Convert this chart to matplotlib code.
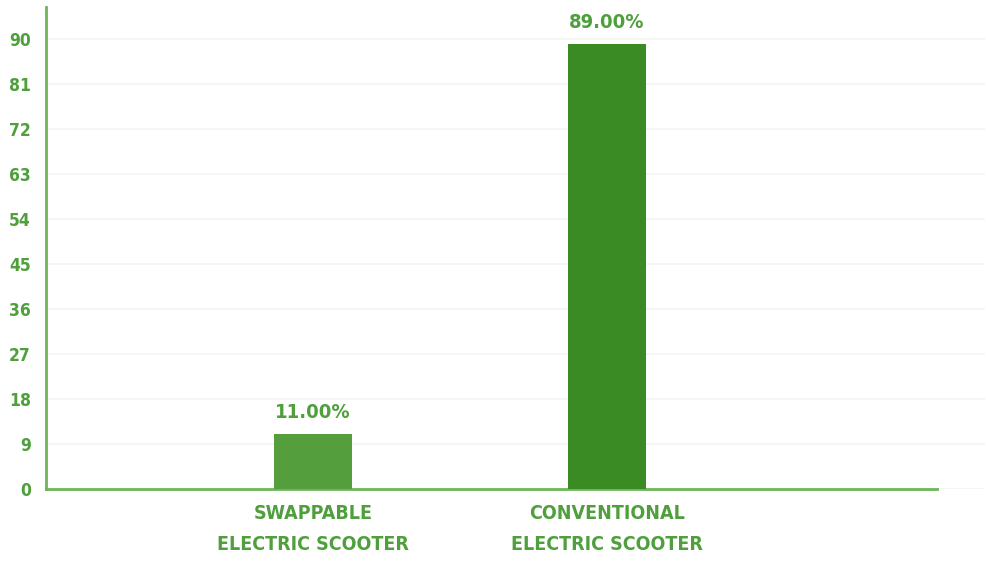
import matplotlib
matplotlib.use("Agg")
import matplotlib.pyplot as plt

categories = ["SWAPPABLE\nELECTRIC SCOOTER", "CONVENTIONAL\nELECTRIC SCOOTER"]
shares = [11.0, 89.0]
yticks = [0, 9, 18, 27, 36, 45, 54, 63, 72, 81, 90]

plt.rcParams["font.family"] = ["DejaVu Sans"]
plt.rcParams["font.stretch"] = "condensed"

text_green = "#4f9f3c"
axis_green = "#6cb55a"
bar_colors = ["#559e3d", "#3b8b24"]

fig = plt.figure(figsize=(9.87, 5.63), dpi=100)
ax = fig.add_axes([46 / 987, 74 / 563, (985 - 46) / 987, (489 - 7) / 563])

x = list(range(len(categories)))
bars = ax.bar(x, shares, width=0.266, color=bar_colors, zorder=3)

# percentage labels above the bars
for b, v in zip(bars, shares):
    ax.text(b.get_x() + b.get_width() / 2, v + 2.3, f"{v:.2f}%",
            ha="center", va="bottom", color=text_green,
            fontsize=14.5, fontweight="bold", fontstretch="condensed")

ax.set_ylim(0, 96.4)
ax.set_xlim(-0.911, 2.29)
ax.set_yticks(yticks)
ax.set_xticks(x)
ax.set_xticklabels(categories, color=text_green, fontsize=14,
                   fontweight="bold", fontstretch="condensed", linespacing=1.8)
for t in ax.get_yticklabels():
    t.set_color(text_green)
    t.set_fontsize(12.5)
    t.set_fontweight("bold")
    t.set_fontstretch("condensed")
ax.tick_params(axis="both", length=0)
ax.tick_params(axis="y", pad=11)
ax.tick_params(axis="x", pad=11)

ax.grid(axis="y", color="#f1f6ee", linewidth=1.2, zorder=0)
for s in ["top", "right"]:
    ax.spines[s].set_visible(False)
ax.spines["left"].set_color(axis_green)
ax.spines["bottom"].set_color(axis_green)
ax.spines["left"].set_linewidth(2)
ax.spines["bottom"].set_linewidth(2)
ax.spines["bottom"].set_bounds(-0.911, 2.126)

fig.savefig("out.png", dpi=100)
